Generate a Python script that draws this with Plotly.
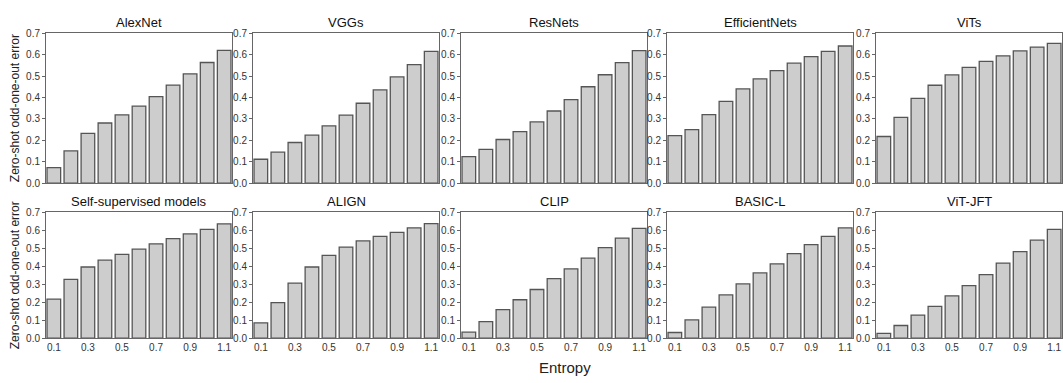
import plotly.graph_objects as go
from plotly.subplots import make_subplots

entropy = [0.1, 0.2, 0.3, 0.4, 0.5, 0.6, 0.7, 0.8, 0.9, 1.0, 1.1]
tick_vals = [0.1, 0.3, 0.5, 0.7, 0.9, 1.1]
tick_text = ["0.1", "0.3", "0.5", "0.7", "0.9", "1.1"]
y_ticks = [0.0, 0.1, 0.2, 0.3, 0.4, 0.5, 0.6, 0.7]

titles = ["AlexNet", "VGGs", "ResNets", "EfficientNets", "ViTs",
          "Self-supervised models", "ALIGN", "CLIP", "BASIC-L", "ViT-JFT"]

alexnet = [0.073, 0.151, 0.233, 0.281, 0.319, 0.360, 0.404, 0.458, 0.510, 0.563, 0.620]
vggs = [0.112, 0.145, 0.190, 0.224, 0.268, 0.318, 0.373, 0.435, 0.496, 0.553, 0.615]
resnets = [0.124, 0.158, 0.204, 0.241, 0.286, 0.337, 0.390, 0.450, 0.506, 0.562, 0.618]
efficientnets = [0.222, 0.250, 0.320, 0.382, 0.440, 0.487, 0.525, 0.560, 0.590, 0.615, 0.640]
vits = [0.218, 0.307, 0.396, 0.457, 0.505, 0.540, 0.568, 0.594, 0.617, 0.635, 0.652]
self_supervised = [0.218, 0.327, 0.396, 0.434, 0.466, 0.495, 0.525, 0.554, 0.580, 0.605, 0.636]
align = [0.086, 0.198, 0.307, 0.396, 0.461, 0.507, 0.541, 0.566, 0.589, 0.614, 0.637]
clip = [0.034, 0.093, 0.159, 0.214, 0.271, 0.332, 0.386, 0.445, 0.504, 0.557, 0.611]
basic_l = [0.032, 0.102, 0.173, 0.241, 0.302, 0.363, 0.414, 0.470, 0.520, 0.566, 0.614]
vit_jft = [0.027, 0.071, 0.129, 0.177, 0.236, 0.293, 0.354, 0.418, 0.482, 0.545, 0.605]

series = [alexnet, vggs, resnets, efficientnets, vits,
          self_supervised, align, clip, basic_l, vit_jft]

W, H = 1063, 383
FONT = "Liberation Sans, Arial, sans-serif"

fig = make_subplots(rows=2, cols=5)

col_left = [46, 253, 461, 667, 876]
col_w = 186
row_px = [(28, 183), (213, 343)]

for i, vals in enumerate(series):
    r, c = i // 5, i % 5
    fig.add_trace(go.Bar(
        x=entropy, y=vals, width=0.08,
        marker=dict(color="#cdcdcd", line=dict(color="#555555", width=1.3)),
        showlegend=False, hoverinfo="x+y"),
        row=r + 1, col=c + 1)
    idx = i + 1
    xa = "xaxis" if idx == 1 else f"xaxis{idx}"
    ya = "yaxis" if idx == 1 else f"yaxis{idx}"
    x0 = col_left[c] / W
    x1 = (col_left[c] + col_w) / W
    top, bot = row_px[r]
    fig.layout[xa].update(
        domain=[x0, x1], range=[0.054, 1.146],
        tickvals=tick_vals if r == 1 else [], ticktext=tick_text if r == 1 else [],
        showticklabels=(r == 1), ticks="",
        showline=True, linecolor="#666666", linewidth=1, mirror=True,
        showgrid=False, zeroline=False,
        tickfont=dict(size=10, color="#333333", family=FONT))
    fig.layout[ya].update(
        domain=[1 - bot / H, 1 - top / H], range=[0, 0.7],
        tickvals=y_ticks, ticktext=[f"{v:.1f}" for v in y_ticks],
        ticks="outside", ticklen=3, tickcolor="#666666", tickwidth=1,
        showline=True, linecolor="#666666", linewidth=1, mirror=True,
        showgrid=False, zeroline=False,
        tickfont=dict(size=10, color="#333333", family=FONT))
    fig.add_annotation(
        text=titles[i], xref="paper", yref="paper",
        x=(col_left[c] + col_w / 2) / W, y=1 - (top - 11) / H,
        showarrow=False, font=dict(size=13, color="#111111", family=FONT),
        xanchor="center", yanchor="middle")

for top, bot in row_px:
    fig.add_annotation(
        text="Zero-shot odd-one-out error", xref="paper", yref="paper",
        x=15 / W, y=1 - ((top + bot) / 2) / H, textangle=-90,
        showarrow=False, font=dict(size=12, color="#222222", family=FONT),
        xanchor="center", yanchor="middle")

fig.add_annotation(
    text="Entropy", xref="paper", yref="paper",
    x=565 / W, y=1 - 373 / H, showarrow=False,
    font=dict(size=15, color="#222222", family=FONT),
    xanchor="center", yanchor="middle")

fig.update_layout(
    width=W, height=H, margin=dict(l=0, r=0, t=0, b=0),
    paper_bgcolor="white", plot_bgcolor="white",
    bargap=0.2, font=dict(family=FONT))

fig.write_html(
    "out.html",
    config={"displayModeBar": False},
    post_script="document.documentElement.style.margin='0';"
                "document.documentElement.style.overflow='hidden';"
                "document.body.style.margin='0';document.body.style.padding='0';"
                "document.body.style.overflow='hidden';")
